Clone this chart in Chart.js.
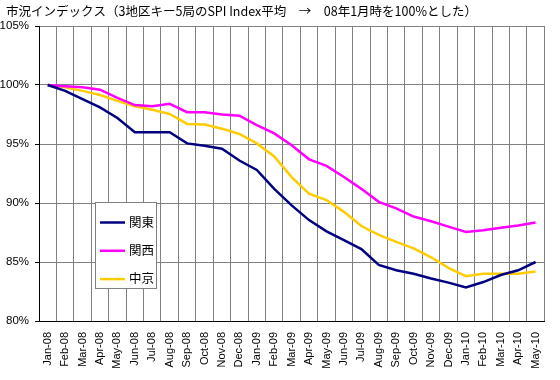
<!DOCTYPE html>
<html><head><meta charset="utf-8">
<script src="https://cdn.jsdelivr.net/npm/chart.js@4"></script>
<style>html,body{margin:0;padding:0;background:#fff;}#wrap{width:560px;height:380px;}</style>
</head><body><div id="wrap"><canvas id="c" width="560" height="380"></canvas></div>
<script>
const titleText = '市況インデックス（3地区キー5局のSPI Index平均　→　08年1月時を100%とした）';
const categories = ['Jan-08','Feb-08','Mar-08','Apr-08','May-08','Jun-08','Jul-08','Aug-08','Sep-08','Oct-08','Nov-08','Dec-08',
  'Jan-09','Feb-09','Mar-09','Apr-09','May-09','Jun-09','Jul-09','Aug-09','Sep-09','Oct-09','Nov-09','Dec-09',
  'Jan-10','Feb-10','Mar-10','Apr-10','May-10'];
const seriesNames = ['関東','関西','中京'];
const kanto  = [100, 99.5, 98.8, 98.1, 97.2, 96.0, 96.0, 96.0, 95.05, 94.85, 94.6, 93.6, 92.8, 91.2, 89.8, 88.55, 87.6, 86.85, 86.1, 84.75, 84.3, 84.0, 83.6, 83.25, 82.85, 83.3, 83.9, 84.3, 85.0];
const kansai = [100, 99.9, 99.8, 99.6, 98.9, 98.3, 98.2, 98.4, 97.7, 97.7, 97.5, 97.4, 96.6, 95.9, 94.9, 93.7, 93.15, 92.2, 91.2, 90.1, 89.55, 88.85, 88.45, 88.0, 87.55, 87.7, 87.9, 88.1, 88.35];
const chukyo = [100, 99.8, 99.5, 99.15, 98.65, 98.2, 97.9, 97.55, 96.7, 96.65, 96.3, 95.85, 95.05, 93.95, 92.2, 90.8, 90.25, 89.25, 88.05, 87.3, 86.7, 86.15, 85.4, 84.5, 83.8, 84.0, 84.0, 84.0, 84.2];
const yMin = 80, yMax = 105, yStep = 5;
const colors = ['#000080','#FF00FF','#FFCC00'];

const titlePlugin = {
  id:'titleText',
  afterDraw(chart){
    const ctx = chart.ctx;
    ctx.save();
    ctx.font = '12.5px "Noto Sans CJK JP"';
    ctx.fillStyle = '#000';
    ctx.textBaseline = 'middle';
    ctx.textAlign = 'left';
    ctx.fillText(titleText, 6, 11);
    ctx.restore();
  }
};
const legendPlugin = {
  id:'boxLegend',
  afterDraw(chart){
    const ctx = chart.ctx;
    ctx.save();
    const x = 95.5, y = 202.5, w = 61, h = 86;
    ctx.fillStyle = '#fff';
    ctx.fillRect(x, y, w, h);
    ctx.strokeStyle = '#808080';
    ctx.lineWidth = 1;
    ctx.strokeRect(x, y, w, h);
    ctx.font = '12.5px "Noto Sans CJK JP"';
    ctx.textBaseline = 'middle';
    chart.data.datasets.forEach((ds, i) => {
      const cy = 222 + i * 28.3;
      ctx.strokeStyle = ds.borderColor;
      ctx.lineWidth = 2.5;
      ctx.beginPath();
      ctx.moveTo(100, cy + 0.5);
      ctx.lineTo(125, cy + 0.5);
      ctx.stroke();
      ctx.fillStyle = '#000';
      ctx.fillText(ds.label, 129, cy);
    });
    ctx.restore();
  }
};

new Chart(document.getElementById('c'), {
  type:'line',
  data:{
    labels: categories,
    datasets: [kanto, kansai, chukyo].map((d, i) => ({
      label: seriesNames[i], data: d, borderColor: colors[i], backgroundColor: colors[i],
      borderWidth: 2.5, pointRadius: 0, tension: 0, fill: false
    }))
  },
  options:{
    responsive:false, animation:false,
    layout:{padding:{left:0, top:26, right:12, bottom:0}},
    plugins:{legend:{display:false}, title:{display:false}, tooltip:{enabled:false}},
    scales:{
      x:{
        offset:true,
        grid:{offset:true, color:'#808080', lineWidth:1, drawTicks:false},
        border:{color:'#000', width:1},
        ticks:{autoSkip:false, minRotation:90, maxRotation:90, padding:11, color:'#000', font:{family:'Liberation Sans', size:11}},
        afterFit(s){ s.height = 59; }
      },
      y:{
        min:yMin, max:yMax,
        grid:{color:'#808080', lineWidth:1, tickLength:4, tickColor:'#000'},
        border:{color:'#000', width:1},
        ticks:{stepSize:yStep, padding:6, color:'#000', font:{family:'Liberation Sans', size:11.5}, callback:v => v + '%'},
        afterFit(s){ s.width = 39; }
      }
    }
  },
  plugins:[titlePlugin, legendPlugin]
});
</script></body></html>
